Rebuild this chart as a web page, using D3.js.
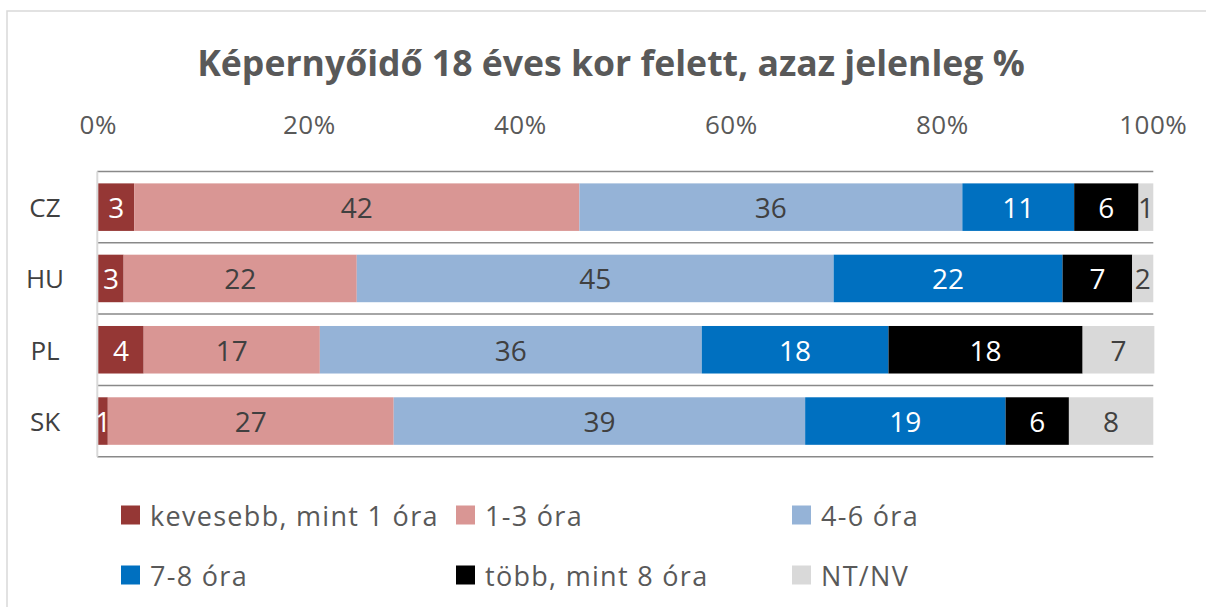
<!DOCTYPE html>
<html>
<head>
<meta charset="utf-8">
<script src="https://cdn.jsdelivr.net/npm/d3@7"></script>
<style>
  html, body { margin: 0; padding: 0; background: #fff; }
  svg { display: block; font-family: "Open Sans", sans-serif; }
</style>
</head>
<body>
<svg id="chart" width="1206" height="607"></svg>
<script>
const width = 1206;
const height = 607;
const margin = { left: 98.3, top: 171.5, right: 52.7, bottom: 150.3 };

// data (shares, labels as printed)
const categories = ['CZ', 'HU', 'PL', 'SK'];
const seriesNames = ['kevesebb, mint 1 óra', '1-3 óra', '4-6 óra', '7-8 óra', 'több, mint 8 óra', 'NT/NV'];
const seriesColors = ['#953735', '#d99694', '#95b3d7', '#0070c0', '#000000', '#d9d9d9'];
const labelColors = ['#ffffff', '#404040', '#404040', '#ffffff', '#ffffff', '#404040'];

const lessThan1 = [3.4, 2.4, 4.3, 0.9];
const hours1to3 = [42.2, 22.1, 16.7, 27.1];
const hours4to6 = [36.3, 45.2, 36.2, 39.0];
const hours7to8 = [10.6, 21.7, 17.7, 19.0];
const moreThan8 = [6.1, 6.6, 18.4, 6.0];
const noAnswer = [1.4, 2.0, 6.8, 8.0];

const lessThan1Labels = [3, 3, 4, 1];
const hours1to3Labels = [42, 22, 17, 27];
const hours4to6Labels = [36, 45, 36, 39];
const hours7to8Labels = [11, 22, 18, 19];
const moreThan8Labels = [6, 7, 18, 6];
const noAnswerLabels = [1, 2, 7, 8];

const tickValues = [0, 20, 40, 60, 80, 100];

const allValues = [lessThan1, hours1to3, hours4to6, hours7to8, moreThan8, noAnswer];
const allLabels = [lessThan1Labels, hours1to3Labels, hours4to6Labels, hours7to8Labels, moreThan8Labels, noAnswerLabels];

// table for d3.stack
let table = categories.map((c, i) => {
  let row = { cat: c };
  seriesNames.forEach((s, j) => { row[s] = allValues[j][i]; });
  return row;
});
let stacked = d3.stack().keys(seriesNames)(table);

let svg = d3.select('#chart');

// frame
svg.append('rect')
  .attr('x', 7).attr('y', 11)
  .attr('width', width + 20).attr('height', height + 20)
  .attr('fill', 'none')
  .attr('stroke', '#d9d9d9')
  .attr('stroke-width', 1.5);

// scales
let x = d3.scaleLinear().domain([0, 100]).range([margin.left, width - margin.right]);
let y = d3.scaleBand().domain(categories)
  .range([margin.top, height - margin.bottom])
  .paddingInner(1 / 3).paddingOuter(1 / 6);

// title, fitted to the reference width
let title = svg.append('text')
  .attr('x', 611).attr('y', 62)
  .attr('text-anchor', 'middle')
  .attr('dominant-baseline', 'central')
  .attr('font-size', 30)
  .attr('font-weight', 700)
  .attr('fill', '#595959')
  .text('Képernyőidő 18 éves kor felett, azaz jelenleg %');
let tw = title.node().getComputedTextLength();
title.attr('font-size', 30 * 828 / tw);

// x tick labels on top
svg.append('g').selectAll('text')
  .data(tickValues)
  .enter().append('text')
    .attr('x', d => x(d))
    .attr('y', 124)
    .attr('text-anchor', 'middle')
    .attr('dominant-baseline', 'central')
    .attr('font-size', 26)
    .attr('letter-spacing', 0.5)
    .attr('fill', '#595959')
    .text(d => d + '%');

// horizontal separators between categories
let edges = categories.map(c => y(c) - y.step() * y.paddingOuter()).concat([height - margin.bottom]);
svg.append('g').selectAll('line')
  .data(edges)
  .enter().append('line')
    .attr('x1', x(0) - 1).attr('x2', x(100))
    .attr('y1', d => d).attr('y2', d => d)
    .attr('stroke', '#898989')
    .attr('stroke-width', 1.5);

// vertical axis line
svg.append('line')
  .attr('x1', x(0) - 1).attr('x2', x(0) - 1)
  .attr('y1', margin.top).attr('y2', height - margin.bottom)
  .attr('stroke', '#d9d9d9')
  .attr('stroke-width', 2);

// category labels
svg.append('g').selectAll('text')
  .data(categories)
  .enter().append('text')
    .attr('x', 45)
    .attr('y', d => y(d) + y.bandwidth() / 2)
    .attr('text-anchor', 'middle')
    .attr('dominant-baseline', 'central')
    .attr('font-size', 26)
    .attr('fill', '#404040')
    .text(d => d);

// bars
let layers = svg.append('g').selectAll('g')
  .data(stacked)
  .enter().append('g')
    .attr('fill', (d, i) => seriesColors[i]);

layers.selectAll('rect')
  .data(d => d)
  .enter().append('rect')
    .attr('x', d => x(d[0]))
    .attr('y', d => y(d.data.cat))
    .attr('width', d => x(d[1]) - x(d[0]))
    .attr('height', y.bandwidth());

// value labels
layers.each(function(layer, j) {
  d3.select(this).selectAll('text')
    .data(layer)
    .enter().append('text')
      .attr('x', d => (x(d[0]) + x(d[1])) / 2)
      .attr('y', d => y(d.data.cat) + y.bandwidth() / 2)
      .attr('text-anchor', 'middle')
      .attr('dominant-baseline', 'central')
      .attr('font-size', 28)
      .attr('fill', labelColors[j])
      .text((d, i) => allLabels[j][i]);
});

// legend
let legendCols = [121, 456, 792];
let legendRows = [515, 575];
let legend = svg.append('g').selectAll('g')
  .data(seriesNames)
  .enter().append('g')
    .attr('transform', (d, i) => 'translate(' + legendCols[i % 3] + ',' + legendRows[Math.floor(i / 3)] + ')');

legend.append('rect')
  .attr('x', 0).attr('y', -9.5)
  .attr('width', 19).attr('height', 19)
  .attr('fill', (d, i) => seriesColors[i]);

legend.append('text')
  .attr('x', 29).attr('y', 0)
  .attr('dominant-baseline', 'central')
  .attr('font-size', 27)
  .attr('letter-spacing', 1.3)
  .attr('fill', '#595959')
  .text(d => d);
</script>
</body>
</html>
